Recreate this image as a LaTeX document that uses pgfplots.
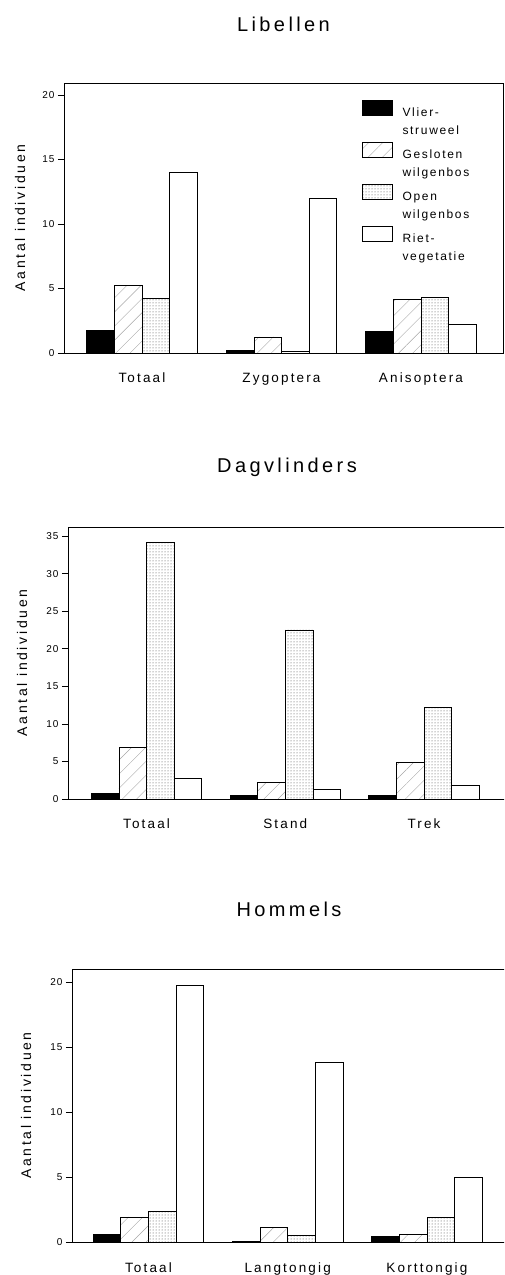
\documentclass[border=0pt]{standalone}
\usepackage{fontspec}
\setmainfont{Liberation Sans}
\newfontfamily\titlefont[LetterSpace=17]{Liberation Sans}
\newfontfamily\labfont[LetterSpace=16]{Liberation Sans}
\newfontfamily\ylabfont[LetterSpace=19]{Liberation Sans}
\newfontfamily\tickfont[LetterSpace=10]{Liberation Sans}
\newfontfamily\legfont[LetterSpace=14]{Liberation Sans}
\usepackage{pgfplots}
\pgfplotsset{compat=1.18}
\usetikzlibrary{patterns.meta}
\newcommand\twoline[2]{\begin{tabular}[t]{@{}l@{}}#1\\#2\end{tabular}}

\pgfplotsset{
  panel/.style={
    scale only axis, ybar=0pt, bar width=27.6pt,
    ymin=0,
    axis line style={line width=0.8pt},
    xtick={0,1,2}, xtick style={draw=none},
    ytick pos=left, tick align=outside, major tick length=6pt,
    ytick style={line width=0.7pt, black},
    /pgf/number format/assume math mode=true,
    yticklabel style={font=\tickfont\fontsize{10}{12}\selectfont},
    xticklabel style={font=\labfont\fontsize{13.5}{16}\selectfont, anchor=base, yshift=-24pt},
    ylabel={Aantal individuen},
    ylabel style={font=\ylabfont\fontsize{14}{16}\selectfont, at={(axis description cs:0,0.5)}, anchor=center},
    title style={at={(0.5,1)}, anchor=base, font=\titlefont\fontsize{20}{24}\selectfont},
    every axis plot/.append style={draw=black, line width=0.7pt},
  },
  s1/.style={fill=black},
  s2/.style={pattern={Lines[angle=45,distance=10pt,line width=0.4pt]}, pattern color=black!35},
  s3/.style={pattern={Dots[distance=3pt,radius=0.5pt]}, pattern color=black!75},
  s4/.style={fill=white},
  limg/.style={legend image code/.code={\draw[##1] (0pt,-5pt) rectangle (30pt,10pt);}},
}

\begin{document}
\begin{tikzpicture}
\useasboundingbox (0,0) rectangle (504pt,1275pt);
\clip (0,0) rectangle (504pt,1275pt);

% ---------- Libellen ----------
\begin{axis}[panel,
  at={(64pt,922pt)}, anchor=south west,
  width=439pt, height=270pt,
  xmin=-0.559, xmax=2.588, ymax=20.93,
  ytick={0,5,10,15,20},
  xticklabels={Totaal,Zygoptera,Anisoptera},
  title={Libellen}, title style={yshift=45pt},
  ylabel style={yshift=44pt},
  legend style={at={(0.678,0.936)}, anchor=north west, draw=none, fill=none,
    inner sep=0pt, row sep=24.5pt, column sep=10pt,
    nodes={inner sep=0pt},
    font=\legfont\fontsize{12}{18}\selectfont},
  legend cell align=left,
]
\addplot[s1,limg] coordinates {(0,1.73) (1,0.20) (2,1.68)};
\addlegendentry{\twoline{Vlier-}{struweel}}
\addplot[s2,limg] coordinates {(0,5.24) (1,1.24) (2,4.13)};
\addlegendentry{\twoline{Gesloten}{wilgenbos}}
\addplot[s3,limg] coordinates {(0,4.26) (1,0.13) (2,4.28)};
\addlegendentry{\twoline{Open}{wilgenbos}}
\addplot[s4,limg] coordinates {(0,14.0) (1,12.0) (2,2.19)};
\addlegendentry{\twoline{Riet-}{vegetatie}}
\end{axis}

% ---------- Dagvlinders ----------
\begin{axis}[panel,
  at={(68pt,476pt)}, anchor=south west,
  width=438pt, height=272pt,
  xmin=-0.566, xmax=2.591, ymax=36.2,
  ytick={0,5,10,15,20,25,30,35},
  xticklabels={Totaal,Stand,Trek},
  title={Dagvlinders}, title style={yshift=48pt},
  ylabel style={yshift=46pt},
]
\addplot[s1] coordinates {(0,0.71) (1,0.53) (2,0.49)};
\addplot[s2] coordinates {(0,6.9) (1,2.26) (2,4.87)};
\addplot[s3] coordinates {(0,34.1) (1,22.5) (2,12.2)};
\addplot[s4] coordinates {(0,2.75) (1,1.33) (2,1.82)};
\end{axis}

% ---------- Hommels ----------
\begin{axis}[panel,
  at={(72pt,33pt)}, anchor=south west,
  width=434pt, height=273pt,
  xmin=-0.549, xmax=2.568, ymax=21.0,
  ytick={0,5,10,15,20},
  xticklabels={Totaal,Langtongig,Korttongig},
  title={Hommels}, title style={yshift=46pt},
  ylabel style={yshift=46pt},
]
\addplot[s1] coordinates {(0,0.59) (1,0.05) (2,0.44)};
\addplot[s2] coordinates {(0,1.93) (1,1.13) (2,0.57)};
\addplot[s3] coordinates {(0,2.39) (1,0.51) (2,1.88)};
\addplot[s4] coordinates {(0,19.74) (1,13.8) (2,4.96)};
\end{axis}
\end{tikzpicture}
\end{document}
